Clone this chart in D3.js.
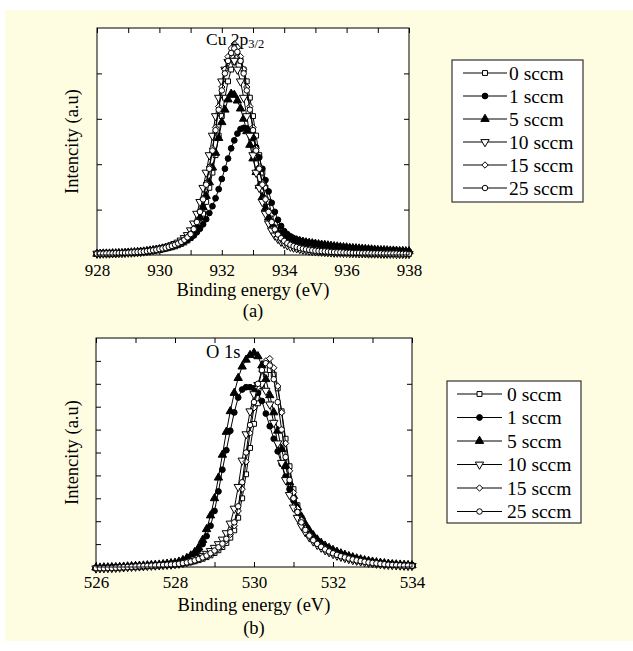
<!DOCTYPE html>
<html>
<head>
<meta charset="utf-8">
<script src="https://cdn.jsdelivr.net/npm/d3@7"></script>
<style>
  body { margin: 0; background: #fff; }
</style>
</head>
<body>
<svg width="633" height="651" font-family="'Liberation Serif', 'Times New Roman', Times, 'DejaVu Serif', serif"></svg>
<script>
// series names (legend order)
const flows = ["0 sccm", "1 sccm", "5 sccm", "10 sccm", "15 sccm", "25 sccm"];

// binding energy grids (0.1 eV steps)
const cuEnergy = d3.range(0, 101).map((i) => 928 + i / 10);
const oEnergy = d3.range(0, 81).map((i) => 526 + i / 10);

// Cu 2p3/2 intensities (a.u., 0-100 = frame height)
const cu0 = [0.6,0.6,0.6,0.6,0.7,0.7,0.7,0.8,0.8,0.9,
  0.9,1.0,1.1,1.1,1.2,1.3,1.4,1.6,1.8,2.0,
  2.2,2.5,2.8,3.1,3.4,3.8,4.3,4.9,5.5,6.4,
  7.5,8.8,10.9,13.9,18.2,23.4,29.6,36.3,44,52.6,
  61.2,69.3,76.5,81.7,85.1,87,85.6,81.7,76.5,69.3,
  61.2,52.6,44,36.3,29.6,23.4,18.2,13.9,10.8,8.6,
  7.1,5.9,5.0,4.3,3.7,3.3,3.0,2.7,2.4,2.2,
  2.0,1.8,1.7,1.6,1.5,1.4,1.3,1.2,1.1,1.1,
  1.1,1.0,1.0,0.9,0.9,0.9,0.8,0.8,0.8,0.7,
  0.7,0.7,0.7,0.6,0.6,0.6,0.6,0.6,0.5,0.5,
  0.5];
const cu1 = [0.5,0.5,0.6,0.6,0.6,0.7,0.7,0.8,0.8,0.9,
  1.0,1.1,1.2,1.3,1.4,1.6,1.7,1.9,2.1,2.3,
  2.6,2.9,3.2,3.6,4.0,4.5,5.0,5.6,6.2,6.8,
  7.5,8.6,10,11.6,13.5,15.8,18.5,21.5,25,29,
  33.5,38,42.5,47,50.5,53.5,55.5,56,55.8,54.5,
  51.5,47.5,43,38,33,28,23,19,15.5,12.8,
  10.5,9.2,8.2,7.4,6.8,6.3,5.9,5.6,5.3,5.1,
  4.9,4.7,4.5,4.3,4.1,3.9,3.7,3.6,3.4,3.3,
  3.2,3.0,2.9,2.8,2.7,2.6,2.5,2.4,2.3,2.2,
  2.1,2.0,2.0,1.9,1.8,1.8,1.7,1.6,1.6,1.5,
  1.5];
const cu5 = [0.5,0.5,0.6,0.6,0.6,0.7,0.7,0.8,0.8,0.9,
  1.0,1.1,1.2,1.3,1.4,1.5,1.7,1.9,2.1,2.3,
  2.5,2.8,3.1,3.5,3.9,4.4,5.0,5.7,6.5,7.5,
  8.7,10.5,13,16.5,21,26,32,38.5,45,51.5,
  58.5,64,68.5,71,70.5,68,64.5,60,54.5,48.5,
  42.5,36.5,30.5,25.5,20.5,16.5,13.5,11.5,10,9,
  8.3,7.7,7.2,6.8,6.4,6.1,5.8,5.5,5.3,5.1,
  4.9,4.7,4.5,4.4,4.2,4.0,3.8,3.7,3.5,3.4,
  3.3,3.1,3.0,2.9,2.8,2.7,2.6,2.5,2.4,2.3,
  2.2,2.1,2.1,2.0,1.9,1.9,1.8,1.7,1.7,1.6,
  1.6];
const cu10 = [0.6,0.6,0.7,0.7,0.7,0.8,0.8,0.9,0.9,1.0,
  1.1,1.1,1.2,1.3,1.4,1.6,1.8,2.0,2.2,2.5,
  2.8,3.1,3.4,3.8,4.3,4.9,5.5,6.4,7.5,8.8,
  10.9,13.9,18.2,23.4,29.6,36.3,44,52.6,61.2,69.3,
  76.5,81.7,85.1,87,85.6,81.7,76.5,69.3,61.2,52.6,
  44,36.3,29.6,23.4,18.2,13.9,10.8,8.6,7.1,5.9,
  5.0,4.3,3.7,3.3,3.0,2.7,2.4,2.2,2.0,1.8,
  1.7,1.6,1.5,1.4,1.3,1.2,1.1,1.1,1.1,1.0,
  1.0,0.9,0.9,0.9,0.8,0.8,0.8,0.7,0.7,0.7,
  0.7,0.6,0.6,0.6,0.6,0.6,0.5,0.5,0.5,0.5,
  0.5];
const cu15 = [0.6,0.6,0.6,0.7,0.7,0.7,0.8,0.8,0.9,0.9,
  1.0,1.1,1.2,1.3,1.4,1.5,1.7,1.9,2.1,2.4,
  2.7,3.0,3.3,3.7,4.1,4.6,5.2,5.9,6.8,8.0,
  9.4,11.7,14.8,19.4,25,31.7,38.8,47,56.2,65.4,
  74,81.8,87.4,91,93,91.5,87.4,81.8,74,65.4,
  56.2,47,38.8,31.7,25,19.4,14.8,11.5,9.2,7.6,
  6.3,5.3,4.6,4.0,3.6,3.2,2.9,2.6,2.3,2.1,
  1.9,1.8,1.7,1.6,1.5,1.4,1.3,1.2,1.2,1.1,
  1.0,1.0,0.9,0.9,0.9,0.8,0.8,0.8,0.7,0.7,
  0.7,0.7,0.6,0.6,0.6,0.6,0.6,0.5,0.5,0.5,
  0.5];
const cu25 = [0.6,0.6,0.6,0.7,0.7,0.7,0.8,0.8,0.9,0.9,
  1.0,1.1,1.2,1.3,1.4,1.5,1.7,1.9,2.1,2.3,
  2.6,2.9,3.2,3.6,4.0,4.5,5.1,5.8,6.7,7.8,
  9.2,11.4,14.5,19,24.5,31,38,46,55,64,
  72.5,80,85.5,89,91,89.5,85.5,80,72.5,64,
  55,46,38,31,24.5,19,14.5,11.3,9.0,7.4,
  6.2,5.2,4.5,3.9,3.5,3.1,2.8,2.5,2.3,2.1,
  1.9,1.8,1.7,1.6,1.5,1.4,1.3,1.2,1.2,1.1,
  1.0,1.0,0.9,0.9,0.9,0.8,0.8,0.8,0.7,0.7,
  0.7,0.7,0.6,0.6,0.6,0.6,0.6,0.5,0.5,0.5,
  0.5];

// O 1s intensities
const o0 = [-0.5,-0.5,-0.4,-0.4,-0.3,-0.3,-0.2,-0.1,0.0,0.1,
  0.2,0.2,0.3,0.4,0.5,0.6,0.7,0.8,0.9,1.0,
  1.1,1.3,1.5,1.8,2.1,2.5,3.0,3.6,4.3,5.1,
  6.1,7.3,8.7,10.5,12.8,16,21.5,30,40.5,52,
  62.5,71.5,79,84,86,84,78,68,56,44,
  34,27,21.5,17.5,14.5,12.3,10.6,9.2,8.1,7.1,
  6.3,5.6,5.0,4.4,3.9,3.5,3.1,2.8,2.5,2.2,
  1.9,1.7,1.5,1.3,1.1,1.0,0.9,0.8,0.7,0.6,
  0.6];
const o1 = [-0.4,-0.4,-0.3,-0.3,-0.2,-0.2,-0.1,0.0,0.1,0.2,
  0.3,0.4,0.5,0.6,0.7,0.8,0.9,1.1,1.3,1.5,
  1.7,2.1,2.7,3.4,4.4,5.7,7.5,10,13.5,18,
  24.5,33,42.5,51,59.5,67.5,74,77.5,78.5,78.5,
  78,76,72.5,67,61.5,56,50.5,45,39.5,34,
  29,24.5,20.8,17.8,15.3,13.3,11.6,10.2,9.0,8.0,
  7.1,6.4,5.7,5.1,4.5,4.0,3.6,3.2,2.8,2.5,
  2.2,1.9,1.7,1.5,1.3,1.2,1.0,0.9,0.8,0.7,
  0.7];
const o5 = [-0.3,-0.3,-0.2,-0.2,-0.1,-0.1,0.0,0.1,0.2,0.3,
  0.4,0.5,0.6,0.7,0.8,0.9,1.0,1.2,1.4,1.6,
  1.8,2.3,3.0,3.9,5.0,6.5,8.5,11.8,16.5,22.5,
  30,39,49,59,68,76,82.5,87.5,90.5,92.5,
  93.5,92,88,82,75,67.5,59.5,51.5,44,37,
  31,26,22,18.7,16,13.8,12,10.5,9.3,8.3,
  7.4,6.6,5.9,5.3,4.7,4.2,3.7,3.3,2.9,2.6,
  2.3,2.0,1.8,1.6,1.4,1.2,1.1,1.0,0.9,0.8,
  0.7];
const o10 = [-0.6,-0.5,-0.5,-0.4,-0.4,-0.3,-0.2,-0.1,0.0,0.1,
  0.2,0.3,0.4,0.5,0.6,0.7,0.8,0.9,1.0,1.1,
  1.3,1.5,1.8,2.2,2.7,3.3,4.0,4.8,5.8,7.0,
  8.4,10.0,12.0,14.8,19,25.5,35,46.5,58,68,
  75.5,79.5,80,77,71,63,54,45.5,38,31.5,
  26,21.5,18,15.2,13,11.2,9.7,8.5,7.4,6.5,
  5.7,5.0,4.5,4.0,3.5,3.1,2.8,2.5,2.2,1.9,
  1.7,1.5,1.3,1.1,1.0,0.9,0.8,0.7,0.6,0.5,
  0.5];
const o15 = [-0.7,-0.7,-0.6,-0.6,-0.5,-0.4,-0.3,-0.2,-0.1,0.0,
  0.1,0.2,0.3,0.4,0.5,0.6,0.7,0.8,0.9,1.0,
  1.2,1.4,1.6,1.9,2.3,2.7,3.2,3.9,4.7,5.6,
  6.7,8.0,9.5,11.5,14.2,18,24.5,34,46,58.5,
  69.5,78.5,85.5,90,91,87,79,67.5,54,42,
  32.5,25.5,20.5,16.8,14,11.9,10.2,8.9,7.8,6.9,
  6.1,5.4,4.8,4.3,3.8,3.4,3.0,2.7,2.4,2.1,
  1.8,1.6,1.4,1.2,1.1,0.9,0.8,0.7,0.6,0.6,
  0.5];
const o25 = [-0.5,-0.5,-0.5,-0.4,-0.4,-0.3,-0.2,-0.1,0.0,0.1,
  0.2,0.3,0.4,0.5,0.6,0.7,0.8,0.9,1.0,1.1,
  1.2,1.4,1.7,2.0,2.4,2.9,3.5,4.2,5.0,6.0,
  7.2,8.6,10.2,12.3,15.2,19.5,26.5,37,50,62,
  72,80,86,89,88,82,72,60,48,38,
  30,24,19.5,16.2,13.7,11.7,10.1,8.8,7.7,6.8,
  6.0,5.3,4.7,4.2,3.7,3.3,2.9,2.6,2.3,2.0,
  1.8,1.6,1.4,1.2,1.0,0.9,0.8,0.7,0.6,0.6,
  0.5];

// marker style per series
const markers = [
  { type: d3.symbolSquare, fill: "#fff", size: 24, rot: 0 },
  { type: d3.symbolCircle, fill: "#000", size: 26, rot: 0 },
  { type: d3.symbolTriangle, fill: "#000", size: 30, rot: 0 },
  { type: d3.symbolTriangle, fill: "#fff", size: 30, rot: 180 },
  { type: d3.symbolDiamond2, fill: "#fff", size: 26, rot: 0 },
  { type: d3.symbolCircle, fill: "#fff", size: 24, rot: 0 },
];

const FONT = "'Liberation Serif', 'Times New Roman', Times, 'DejaVu Serif', serif";

const svg = d3.select("svg");
svg.append("rect")
  .attr("x", 5).attr("y", 10)
  .attr("width", 628).attr("height", 631)
  .attr("fill", "#fffde1");

function drawPanel(opt) {
  const { x, y, energy, values } = opt;
  const [xl, xr] = x.range();
  const [yb, yt] = y.range();
  const g = svg.append("g").attr("font-family", FONT);

  g.append("rect")
    .attr("x", xl).attr("y", yt)
    .attr("width", xr - xl).attr("height", yb - yt)
    .attr("fill", "#fff");

  const styleAxis = (a) => {
    a.select(".domain").remove();
    a.attr("font-size", 17).attr("font-family", FONT);
    a.selectAll("line").attr("stroke", "#000");
    a.selectAll("text").attr("fill", "#000");
  };

  g.append("g")
    .attr("transform", `translate(0,${yb})`)
    .call(d3.axisBottom(x).tickValues(opt.xTicks).tickSizeInner(-5).tickSizeOuter(0)
      .tickPadding(9).tickFormat((d) => (opt.xLabels.includes(d) ? d : "")))
    .call(styleAxis);
  g.append("g")
    .attr("transform", `translate(0,${yt})`)
    .call(d3.axisTop(x).tickValues(opt.xTicks).tickSizeInner(-5).tickSizeOuter(0).tickFormat(""))
    .call(styleAxis);
  g.append("g")
    .attr("transform", `translate(${xl},0)`)
    .call(d3.axisLeft(y).tickValues(opt.yTicksLeft).tickSizeInner(-5).tickSizeOuter(0).tickFormat(""))
    .call(styleAxis);
  g.append("g")
    .attr("transform", `translate(${xr},0)`)
    .call(d3.axisRight(y).tickValues(opt.yTicksRight).tickSizeInner(-5).tickSizeOuter(0).tickFormat(""))
    .call(styleAxis);

  const line = d3.line()
    .x((d, i) => x(energy[i]))
    .y((d) => y(d));

  values.forEach((vals, k) => {
    const m = markers[k];
    const sg = g.append("g").attr("class", "series");
    sg.append("path")
      .attr("d", line(vals))
      .attr("fill", "none")
      .attr("stroke", "#000")
      .attr("stroke-width", 1);
    sg.selectAll("path.mk")
      .data(vals)
      .join("path")
      .attr("class", "mk")
      .attr("transform", (d, i) => `translate(${x(energy[i])},${y(d)}) rotate(${m.rot})`)
      .attr("d", d3.symbol(m.type, m.size))
      .attr("fill", m.fill)
      .attr("stroke", "#000")
      .attr("stroke-width", 1);
  });

  g.append("rect")
    .attr("x", xl).attr("y", yt)
    .attr("width", xr - xl).attr("height", yb - yt)
    .attr("fill", "none")
    .attr("stroke", "#000")
    .attr("stroke-width", 1);

  // titles
  g.append("text")
    .attr("x", (xl + xr) / 2).attr("y", opt.titleY)
    .attr("text-anchor", "middle").attr("font-size", 18.5)
    .text("Binding energy (eV)");
  g.append("text")
    .attr("x", (xl + xr) / 2).attr("y", opt.tagY)
    .attr("text-anchor", "middle").attr("font-size", 18.5)
    .text(opt.tag);
  g.append("text")
    .attr("transform", `translate(78,${(yb + yt) / 2}) rotate(-90)`)
    .attr("text-anchor", "middle").attr("font-size", 18.5)
    .text("Intencity (a.u)");
}

function drawLegend(lx, ly, w, h, lineX0, lineX1, textX, rowY0, rowStep) {
  const g = svg.append("g").attr("font-family", FONT);
  g.append("rect")
    .attr("x", lx).attr("y", ly).attr("width", w).attr("height", h)
    .attr("fill", "#fff").attr("stroke", "#333").attr("stroke-width", 1.2);
  flows.forEach((name, k) => {
    const m = markers[k];
    const cy = rowY0 + k * rowStep;
    g.append("line")
      .attr("x1", lineX0).attr("x2", lineX1).attr("y1", cy).attr("y2", cy)
      .attr("stroke", "#000");
    g.append("path")
      .attr("transform", `translate(${(lineX0 + lineX1) / 2},${cy}) rotate(${m.rot})`)
      .attr("d", d3.symbol(m.type, m.size))
      .attr("fill", m.fill).attr("stroke", "#000");
    g.append("text")
      .attr("x", textX).attr("y", cy + 6.5)
      .attr("font-size", 19.5)
      .text(name);
  });
}

// (a) Cu 2p3/2
const xCu = d3.scaleLinear().domain([928, 938]).range([97, 409]);
const yCu = d3.scaleLinear().domain([0, 100]).range([255, 28]);
drawPanel({
  x: xCu, y: yCu, energy: cuEnergy,
  values: [cu0, cu1, cu5, cu10, cu15, cu25],
  xTicks: d3.range(928, 939), xLabels: [928, 930, 932, 934, 936, 938],
  yTicksLeft: [20, 40, 60, 80], yTicksRight: [20, 40, 60, 80],
  titleY: 296, tagY: 317, tag: "(a)",
});
const cuLabel = svg.append("text").attr("x", 206).attr("y", 45)
  .attr("font-size", 17.5).attr("font-family", FONT);
cuLabel.append("tspan").text("Cu 2p");
cuLabel.append("tspan").attr("font-size", 12.5).attr("dy", 3).text("3/2");
drawLegend(452, 60, 131, 142, 463, 507, 509, 73, 23);

// (b) O 1s
const xO = d3.scaleLinear().domain([526, 534]).range([96, 412]);
const yO = d3.scaleLinear().domain([0, 100]).range([567, 338]);
drawPanel({
  x: xO, y: yO, energy: oEnergy,
  values: [o0, o1, o5, o10, o15, o25],
  xTicks: d3.range(526, 535), xLabels: [526, 528, 530, 532, 534],
  yTicksLeft: d3.range(10, 100, 10), yTicksRight: [20, 40, 60, 80],
  titleY: 611, tagY: 634, tag: "(b)",
});
svg.append("text").attr("x", 206).attr("y", 358)
  .attr("font-size", 18.5).attr("font-family", FONT).text("O 1s");
drawLegend(447, 381, 134, 142, 457, 502, 507, 394, 23.5);
</script>
</body>
</html>
